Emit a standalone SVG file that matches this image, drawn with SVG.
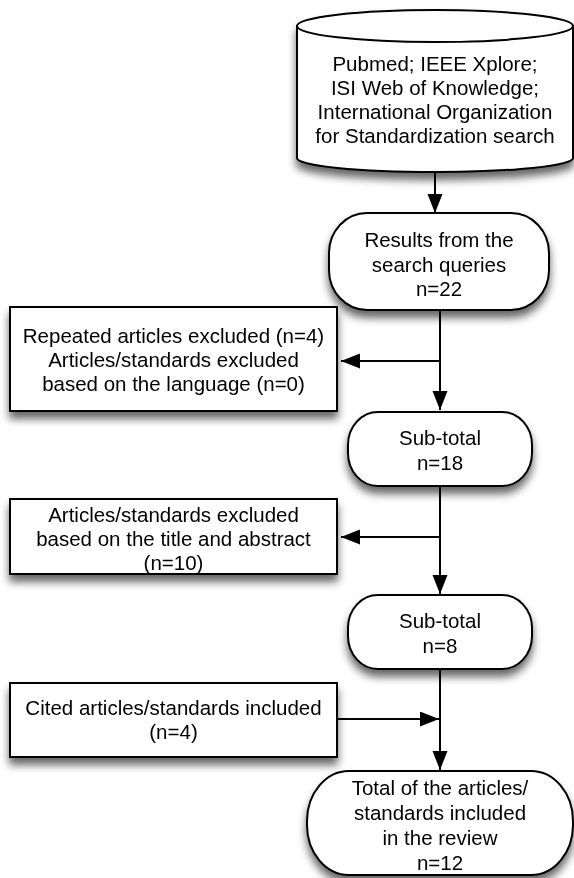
<svg xmlns="http://www.w3.org/2000/svg" width="574" height="878" viewBox="0 0 574 878">
  <defs>
    <style>
      .shape { fill: #ffffff; stroke: #000000; stroke-width: 2; }
      .label { font-family: "Liberation Sans", Arial, Helvetica, sans-serif; font-size: 20.5px; fill: #000000; text-anchor: middle; }
      .conn { fill: none; stroke: #000000; stroke-width: 2; }
    </style>
    <filter id="shadow" x="-10%" y="-20%" width="120%" height="150%">
      <feDropShadow dx="0" dy="7" stdDeviation="4.5" flood-color="#000000" flood-opacity="0.6"/>
    </filter>
    <marker id="arrow" markerUnits="userSpaceOnUse" markerWidth="20" markerHeight="16" refX="19" refY="7.5" orient="auto">
      <path d="M0,0 L19,7.5 L0,15 Z" fill="#000000"/>
    </marker>
  </defs>

  <!-- connectors -->
  <g id="connectors">
    <line class="conn" x1="435" y1="173" x2="435" y2="213" marker-end="url(#arrow)"/>
    <line class="conn" x1="440" y1="310" x2="440" y2="410" marker-end="url(#arrow)"/>
    <line class="conn" x1="440" y1="361" x2="341" y2="361" marker-end="url(#arrow)"/>
    <line class="conn" x1="440" y1="486" x2="440" y2="594" marker-end="url(#arrow)"/>
    <line class="conn" x1="440" y1="537" x2="341" y2="537" marker-end="url(#arrow)"/>
    <line class="conn" x1="440" y1="669" x2="440" y2="770" marker-end="url(#arrow)"/>
    <line class="conn" x1="337" y1="719" x2="439" y2="719" marker-end="url(#arrow)"/>
  </g>

  <!-- database sources -->
  <g id="sources" filter="url(#shadow)">
    <path class="shape" d="M297,26 L297,158 A138,14 0 0 0 573,158 L573,26 Z"/>
    <ellipse class="shape" cx="435" cy="26" rx="138" ry="16"/>
    <text class="label" x="435" y="71">Pubmed; IEEE Xplore;</text>
    <text class="label" x="435" y="95">ISI Web of Knowledge;</text>
    <text class="label" x="435" y="119">International Organization</text>
    <text class="label" x="435" y="143">for Standardization search</text>
  </g>

  <g id="results" filter="url(#shadow)">
    <rect class="shape" x="329" y="213" width="220" height="97" rx="38" ry="40"/>
    <text class="label" x="439" y="247">Results from the</text>
    <text class="label" x="439" y="272">search queries</text>
    <text class="label" x="439" y="296">n=22</text>
  </g>

  <g id="excluded-repeated" filter="url(#shadow)">
    <rect class="shape" x="10" y="307" width="327" height="104"/>
    <text class="label" x="173.5" y="343">Repeated articles excluded (n=4)</text>
    <text class="label" x="173.5" y="367">Articles/standards excluded</text>
    <text class="label" x="173.5" y="391">based on the language (n=0)</text>
  </g>

  <g id="subtotal-18" filter="url(#shadow)">
    <rect class="shape" x="348" y="412" width="184" height="74" rx="30" ry="33"/>
    <text class="label" x="440" y="445">Sub-total</text>
    <text class="label" x="440" y="470">n=18</text>
  </g>

  <g id="excluded-title" filter="url(#shadow)">
    <rect class="shape" x="10" y="499" width="327" height="75"/>
    <text class="label" x="173.5" y="522">Articles/standards excluded</text>
    <text class="label" x="173.5" y="546">based on the title and abstract</text>
    <text class="label" x="173.5" y="570">(n=10)</text>
  </g>

  <g id="subtotal-8" filter="url(#shadow)">
    <rect class="shape" x="348" y="595" width="184" height="74" rx="30" ry="33"/>
    <text class="label" x="440" y="628">Sub-total</text>
    <text class="label" x="440" y="653">n=8</text>
  </g>

  <g id="cited" filter="url(#shadow)">
    <rect class="shape" x="10" y="683" width="327" height="74"/>
    <text class="label" x="173.5" y="715">Cited articles/standards included</text>
    <text class="label" x="173.5" y="739">(n=4)</text>
  </g>

  <g id="total" filter="url(#shadow)">
    <rect class="shape" x="307" y="771" width="266" height="104" rx="42" ry="50"/>
    <text class="label" x="440" y="795">Total of the articles/</text>
    <text class="label" x="440" y="820">standards included</text>
    <text class="label" x="440" y="845">in the review</text>
    <text class="label" x="440" y="870">n=12</text>
  </g>
</svg>
